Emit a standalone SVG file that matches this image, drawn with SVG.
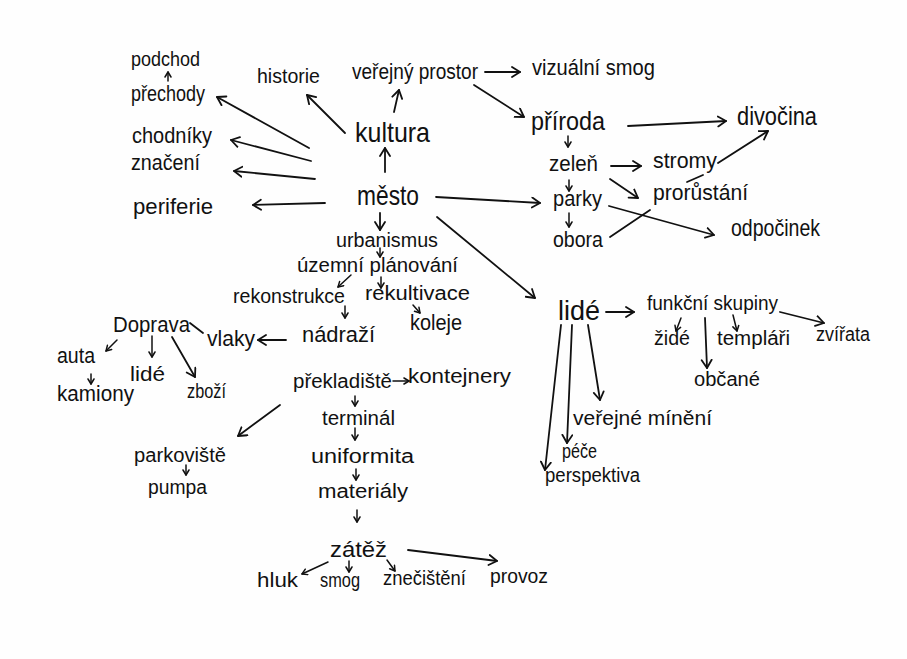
<svg xmlns="http://www.w3.org/2000/svg" width="907" height="659" viewBox="0 0 907 659">
<defs>
<marker id="ah" markerUnits="userSpaceOnUse" markerWidth="14" markerHeight="14" refX="9" refY="6" orient="auto">
<path d="M1,1 L9,6 L1,11" fill="none" stroke="#111" stroke-width="1.8" stroke-linecap="round" stroke-linejoin="round"/>
</marker>
<marker id="as" markerUnits="userSpaceOnUse" markerWidth="10" markerHeight="10" refX="6" refY="4" orient="auto">
<path d="M1,1 L6,4 L1,7" fill="none" stroke="#111" stroke-width="1.5" stroke-linecap="round" stroke-linejoin="round"/>
</marker>
</defs>
<style>
text{font-family:"Liberation Sans","Noto Sans",sans-serif;fill:#111;}
.l{font-size:28px;}
.m{font-size:22px;}
.s{font-size:20px;}
.c line,.c path{stroke:#111;stroke-width:1.8;fill:none;stroke-linecap:round;}
.c .a{marker-end:url(#ah);}
.c .b{marker-end:url(#as);stroke-width:1.5;}
</style>
<rect width="907" height="659" fill="#fefefe"/>
<g class="c" id="connectors">
<line class="a" x1="385" y1="172" x2="385" y2="148"/>
<line class="a" x1="345" y1="133" x2="307" y2="95"/>
<line class="a" x1="394" y1="112" x2="399" y2="90"/>
<line class="a" x1="485" y1="72" x2="520" y2="72"/>
<line class="a" x1="474" y1="85" x2="524" y2="117"/>
<line class="a" x1="628" y1="126" x2="726" y2="121"/>
<line class="b" x1="568" y1="136" x2="568" y2="147"/>
<line class="a" x1="611" y1="166" x2="641" y2="166"/>
<line class="a" x1="610" y1="179" x2="638" y2="198"/>
<line class="b" x1="569" y1="180" x2="569" y2="191"/>
<line class="b" x1="569" y1="213" x2="569" y2="227"/>
<line class="a" x1="609" y1="206" x2="714" y2="235"/>
<line x1="610" y1="237" x2="650" y2="210"/>
<line x1="687" y1="182" x2="703" y2="175"/>
<line class="a" x1="718" y1="163" x2="768" y2="131"/>
<line class="a" x1="436" y1="197" x2="540" y2="203"/>
<line class="a" x1="437" y1="217" x2="535" y2="298"/>
<line class="a" x1="309" y1="148" x2="217" y2="97"/>
<line class="a" x1="311" y1="161" x2="231" y2="140"/>
<line class="a" x1="315" y1="179" x2="234" y2="171"/>
<line class="a" x1="325" y1="203" x2="253" y2="205"/>
<line class="b" x1="168" y1="81" x2="168" y2="72"/>
<line class="a" x1="380" y1="213" x2="380" y2="230"/>
<line class="b" x1="380" y1="248" x2="380" y2="257"/>
<line class="b" x1="351" y1="275" x2="338" y2="287"/>
<line class="b" x1="381" y1="277" x2="381" y2="288"/>
<line class="b" x1="345" y1="306" x2="345" y2="318"/>
<line class="b" x1="413" y1="305" x2="420" y2="313"/>
<line class="a" x1="286" y1="340" x2="258" y2="340"/>
<line x1="190" y1="323" x2="203" y2="333"/>
<line class="b" x1="117" y1="340" x2="106" y2="351"/>
<line class="b" x1="152" y1="336" x2="152" y2="357"/>
<line class="a" x1="172" y1="337" x2="195" y2="377"/>
<line class="b" x1="91" y1="374" x2="91" y2="384"/>
<line class="b" x1="393" y1="381" x2="409" y2="381"/>
<line class="b" x1="355" y1="396" x2="355" y2="406"/>
<line class="a" x1="280" y1="405" x2="238" y2="436"/>
<line class="b" x1="186" y1="465" x2="186" y2="475"/>
<line class="b" x1="355" y1="428" x2="355" y2="440"/>
<line class="b" x1="356" y1="469" x2="356" y2="480"/>
<line class="b" x1="357" y1="510" x2="357" y2="522"/>
<line class="b" x1="328" y1="562" x2="302" y2="574"/>
<line class="b" x1="349" y1="561" x2="349" y2="572"/>
<line class="b" x1="387" y1="560" x2="395" y2="571"/>
<line class="a" x1="408" y1="550" x2="497" y2="561"/>
<line class="a" x1="606" y1="312" x2="634" y2="312"/>
<line class="a" x1="561" y1="325" x2="545" y2="470"/>
<line class="a" x1="572" y1="325" x2="567" y2="443"/>
<line class="a" x1="588" y1="325" x2="600" y2="400"/>
<line class="b" x1="681" y1="318" x2="676" y2="331"/>
<line class="a" x1="705" y1="318" x2="707" y2="368"/>
<line class="b" x1="733" y1="315" x2="737" y2="331"/>
<line class="a" x1="780" y1="312" x2="824" y2="323"/>
</g>
<g id="n-podchod"><text class="s" x="131" y="66" textLength="69" lengthAdjust="spacingAndGlyphs">podchod</text></g>
<g id="n-prechody"><text class="m" x="131" y="101" textLength="74" lengthAdjust="spacingAndGlyphs">přechody</text></g>
<g id="n-chodniky"><text class="m" x="132" y="143" textLength="80" lengthAdjust="spacingAndGlyphs">chodníky</text></g>
<g id="n-znaceni"><text class="m" x="131" y="170" textLength="69" lengthAdjust="spacingAndGlyphs">značení</text></g>
<g id="n-periferie"><text class="m" x="133" y="214" textLength="80" lengthAdjust="spacingAndGlyphs">periferie</text></g>
<g id="n-historie"><text class="s" x="257" y="83" textLength="63" lengthAdjust="spacingAndGlyphs">historie</text></g>
<g id="n-verejny-prostor"><text class="m" x="352" y="79" textLength="126" lengthAdjust="spacingAndGlyphs">veřejný prostor</text></g>
<g id="n-vizualni-smog"><text class="m" x="532" y="75" textLength="123" lengthAdjust="spacingAndGlyphs">vizuální smog</text></g>
<g id="n-kultura"><text class="l" x="355" y="142" textLength="75" lengthAdjust="spacingAndGlyphs">kultura</text></g>
<g id="n-mesto"><text class="l" x="357" y="205" textLength="62" lengthAdjust="spacingAndGlyphs">město</text></g>
<g id="n-priroda"><text class="l" x="531" y="130" textLength="74" lengthAdjust="spacingAndGlyphs" style="font-size:25px">příroda</text></g>
<g id="n-divocina"><text class="l" x="737" y="125" textLength="80" lengthAdjust="spacingAndGlyphs" style="font-size:25px">divočina</text></g>
<g id="n-zelen"><text class="m" x="549" y="171" textLength="49" lengthAdjust="spacingAndGlyphs">zeleň</text></g>
<g id="n-stromy"><text class="m" x="653" y="168" textLength="64" lengthAdjust="spacingAndGlyphs">stromy</text></g>
<g id="n-parky"><text class="m" x="553" y="206" textLength="49" lengthAdjust="spacingAndGlyphs">parky</text></g>
<g id="n-prorustani"><text class="m" x="653" y="200" textLength="95" lengthAdjust="spacingAndGlyphs">prorůstání</text></g>
<g id="n-obora"><text class="m" x="553" y="247" textLength="50" lengthAdjust="spacingAndGlyphs">obora</text></g>
<g id="n-odpocinek"><text class="m" x="731" y="236" textLength="89" lengthAdjust="spacingAndGlyphs" style="font-size:24px">odpočinek</text></g>
<g id="n-urbanismus"><text class="s" x="336" y="247" textLength="102" lengthAdjust="spacingAndGlyphs">urbanismus</text></g>
<g id="n-uzemni-planovani"><text class="s" x="297" y="272" textLength="161" lengthAdjust="spacingAndGlyphs">územní plánování</text></g>
<g id="n-rekonstrukce"><text class="s" x="233" y="303" textLength="112" lengthAdjust="spacingAndGlyphs">rekonstrukce</text></g>
<g id="n-rekultivace"><text class="s" x="365" y="300" textLength="105" lengthAdjust="spacingAndGlyphs">rekultivace</text></g>
<g id="n-nadrazi"><text class="m" x="302" y="342" textLength="73" lengthAdjust="spacingAndGlyphs">nádraží</text></g>
<g id="n-koleje"><text class="m" x="410" y="330" textLength="52" lengthAdjust="spacingAndGlyphs">koleje</text></g>
<g id="n-vlaky"><text class="m" x="207" y="346" textLength="48" lengthAdjust="spacingAndGlyphs">vlaky</text></g>
<g id="n-doprava"><text class="m" x="113" y="332" textLength="77" lengthAdjust="spacingAndGlyphs">Doprava</text></g>
<g id="n-auta"><text class="m" x="57" y="363" textLength="38" lengthAdjust="spacingAndGlyphs">auta</text></g>
<g id="n-kamiony"><text class="m" x="57" y="401" textLength="77" lengthAdjust="spacingAndGlyphs">kamiony</text></g>
<g id="n-lide-doprava"><text class="s" x="130" y="381" textLength="35" lengthAdjust="spacingAndGlyphs">lidé</text></g>
<g id="n-zbozi"><text class="s" x="187" y="398" textLength="39" lengthAdjust="spacingAndGlyphs">zboží</text></g>
<g id="n-prekladiste"><text class="s" x="293" y="388" textLength="99" lengthAdjust="spacingAndGlyphs">překladiště</text></g>
<g id="n-kontejnery"><text class="s" x="408" y="383" textLength="103" lengthAdjust="spacingAndGlyphs">kontejnery</text></g>
<g id="n-terminal"><text class="s" x="322" y="425" textLength="73" lengthAdjust="spacingAndGlyphs">terminál</text></g>
<g id="n-parkoviste"><text class="s" x="134" y="462" textLength="92" lengthAdjust="spacingAndGlyphs">parkoviště</text></g>
<g id="n-pumpa"><text class="s" x="148" y="494" textLength="59" lengthAdjust="spacingAndGlyphs">pumpa</text></g>
<g id="n-uniformita"><text class="s" x="311" y="463" textLength="103" lengthAdjust="spacingAndGlyphs">uniformita</text></g>
<g id="n-materialy"><text class="s" x="318" y="498" textLength="90" lengthAdjust="spacingAndGlyphs">materiály</text></g>
<g id="n-zatez"><text class="m" x="330" y="557" textLength="57" lengthAdjust="spacingAndGlyphs">zátěž</text></g>
<g id="n-hluk"><text class="s" x="257" y="587" textLength="41" lengthAdjust="spacingAndGlyphs">hluk</text></g>
<g id="n-smog"><text class="s" x="320" y="587" textLength="40" lengthAdjust="spacingAndGlyphs">smog</text></g>
<g id="n-znecisteni"><text class="s" x="383" y="585" textLength="83" lengthAdjust="spacingAndGlyphs">znečištění</text></g>
<g id="n-provoz"><text class="s" x="490" y="583" textLength="58" lengthAdjust="spacingAndGlyphs">provoz</text></g>
<g id="n-lide"><text class="l" x="558" y="320" textLength="42" lengthAdjust="spacingAndGlyphs">lidé</text></g>
<g id="n-funkcni-skupiny"><text class="s" x="647" y="310" textLength="131" lengthAdjust="spacingAndGlyphs">funkční skupiny</text></g>
<g id="n-zide"><text class="s" x="654" y="345" textLength="36" lengthAdjust="spacingAndGlyphs">židé</text></g>
<g id="n-templari"><text class="s" x="717" y="345" textLength="73" lengthAdjust="spacingAndGlyphs">templáři</text></g>
<g id="n-zvirata"><text class="s" x="816" y="341" textLength="54" lengthAdjust="spacingAndGlyphs">zvířata</text></g>
<g id="n-obcane"><text class="s" x="694" y="386" textLength="66" lengthAdjust="spacingAndGlyphs">občané</text></g>
<g id="n-verejne-mineni"><text class="s" x="573" y="425" textLength="139" lengthAdjust="spacingAndGlyphs">veřejné mínění</text></g>
<g id="n-pece"><text class="s" x="562" y="458" textLength="35" lengthAdjust="spacingAndGlyphs">péče</text></g>
<g id="n-perspektiva"><text class="s" x="545" y="482" textLength="95" lengthAdjust="spacingAndGlyphs">perspektiva</text></g>
</svg>
